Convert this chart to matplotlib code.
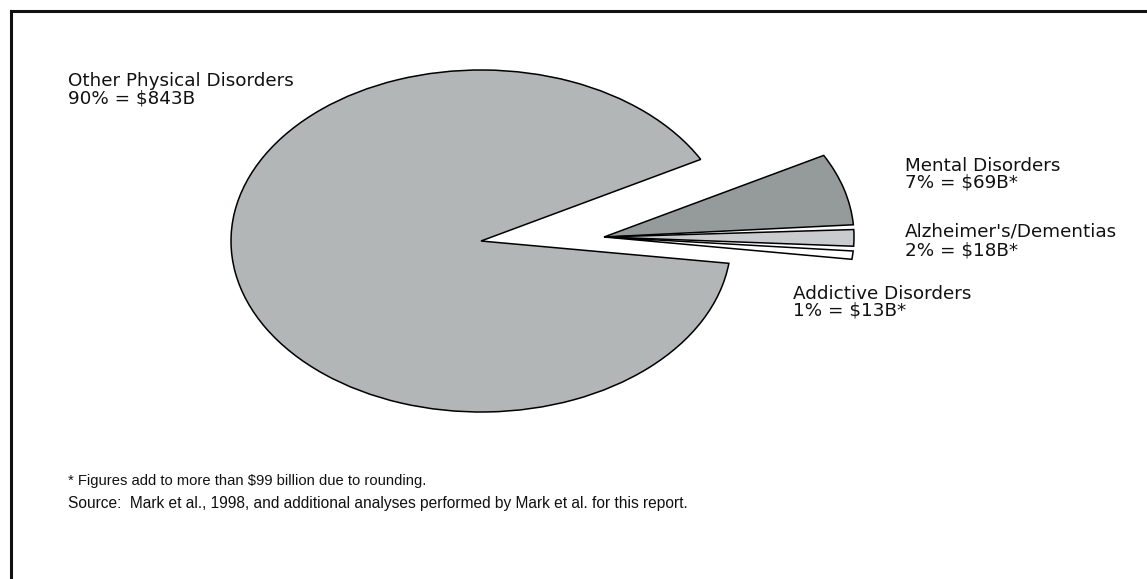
import matplotlib
matplotlib.use("Agg")
import matplotlib.pyplot as plt
from matplotlib.lines import Line2D

# ---- data ----
categories = ["Mental Disorders", "Alzheimer's/Dementias", "Addictive Disorders", "Other Physical Disorders"]
percents = [7, 2, 1, 90]
dollars = ["$69B*", "$18B*", "$13B*", "$843B"]
colors = ["#959b9b", "#c9cbce", "#ffffff", "#b3b6b6"]
footnote = "* Figures add to more than $99 billion due to rounding."
source = "Source:  Mark et al., 1998, and additional analyses performed by Mark et al. for this report."

W, H = 1147, 579
A, B = 250.0, 171.0          # pixel semi-axes of the (elliptical) pie

fig = plt.figure(figsize=(W / 100, H / 100), dpi=100)
ax = fig.add_axes([0, 0, 1, 1])

def d(px, py):
    return (px / A, (H - py) / B)

wp = dict(edgecolor="black", linewidth=1.1, antialiased=True)
START = 28.5

# main slice
w_main, _ = ax.pie(percents, colors=colors, startangle=START, counterclock=False,
                   center=d(481, 241), radius=1.0, wedgeprops=wp, frame=True)
for w in w_main[:3]:
    w.set_visible(False)

# detached small slices
w_small, _ = ax.pie(percents, colors=colors, startangle=START, counterclock=False,
                    center=d(604, 237), radius=1.0, wedgeprops=wp, frame=True)
w_small[3].set_visible(False)
g = 0.8
w_small[0].set_theta1(w_small[0].theta1 + g)
w_small[1].set_theta2(w_small[1].theta2 - g)
w_small[1].set_theta1(w_small[1].theta1 + g)
w_small[2].set_theta2(w_small[2].theta2 - g)

ax.set_aspect("auto")
ax.set_xlim(0, W / A)
ax.set_ylim(0, H / B)
ax.axis("off")

def ftxt(px, py, s, size, family):
    fig.text(px / W, 1 - py / H, s, fontsize=size, family=family, va="baseline",
             ha="left", color="#111111")

label_pos = {
    "Other Physical Disorders": (68, 86, 103),
    "Mental Disorders": (905, 171, 188),
    "Alzheimer's/Dementias": (905, 237, 255),
    "Addictive Disorders": (793, 299, 316),
}
for cat, p, dl in zip(categories, percents, dollars):
    x, y1, y2 = label_pos[cat]
    ftxt(x, y1, cat, 13.2, "DejaVu Sans")
    ftxt(x, y2, f"{p}% = {dl}", 13.2, "DejaVu Sans")

ftxt(68, 485, footnote, 10.6, "Liberation Sans")
ftxt(68, 508, source, 11.2, "Liberation Sans")

# frame lines (left and top)
fig.add_artist(Line2D([10.5 / W, 10.5 / W], [0, 1 - 10.5 / H], color="#111111", lw=2.2,
                      transform=fig.transFigure, solid_capstyle="projecting"))
fig.add_artist(Line2D([10.5 / W, 1], [1 - 10.5 / H, 1 - 10.5 / H], color="#111111", lw=2.2,
                      transform=fig.transFigure, solid_capstyle="projecting"))

fig.savefig("out.png", dpi=100)
